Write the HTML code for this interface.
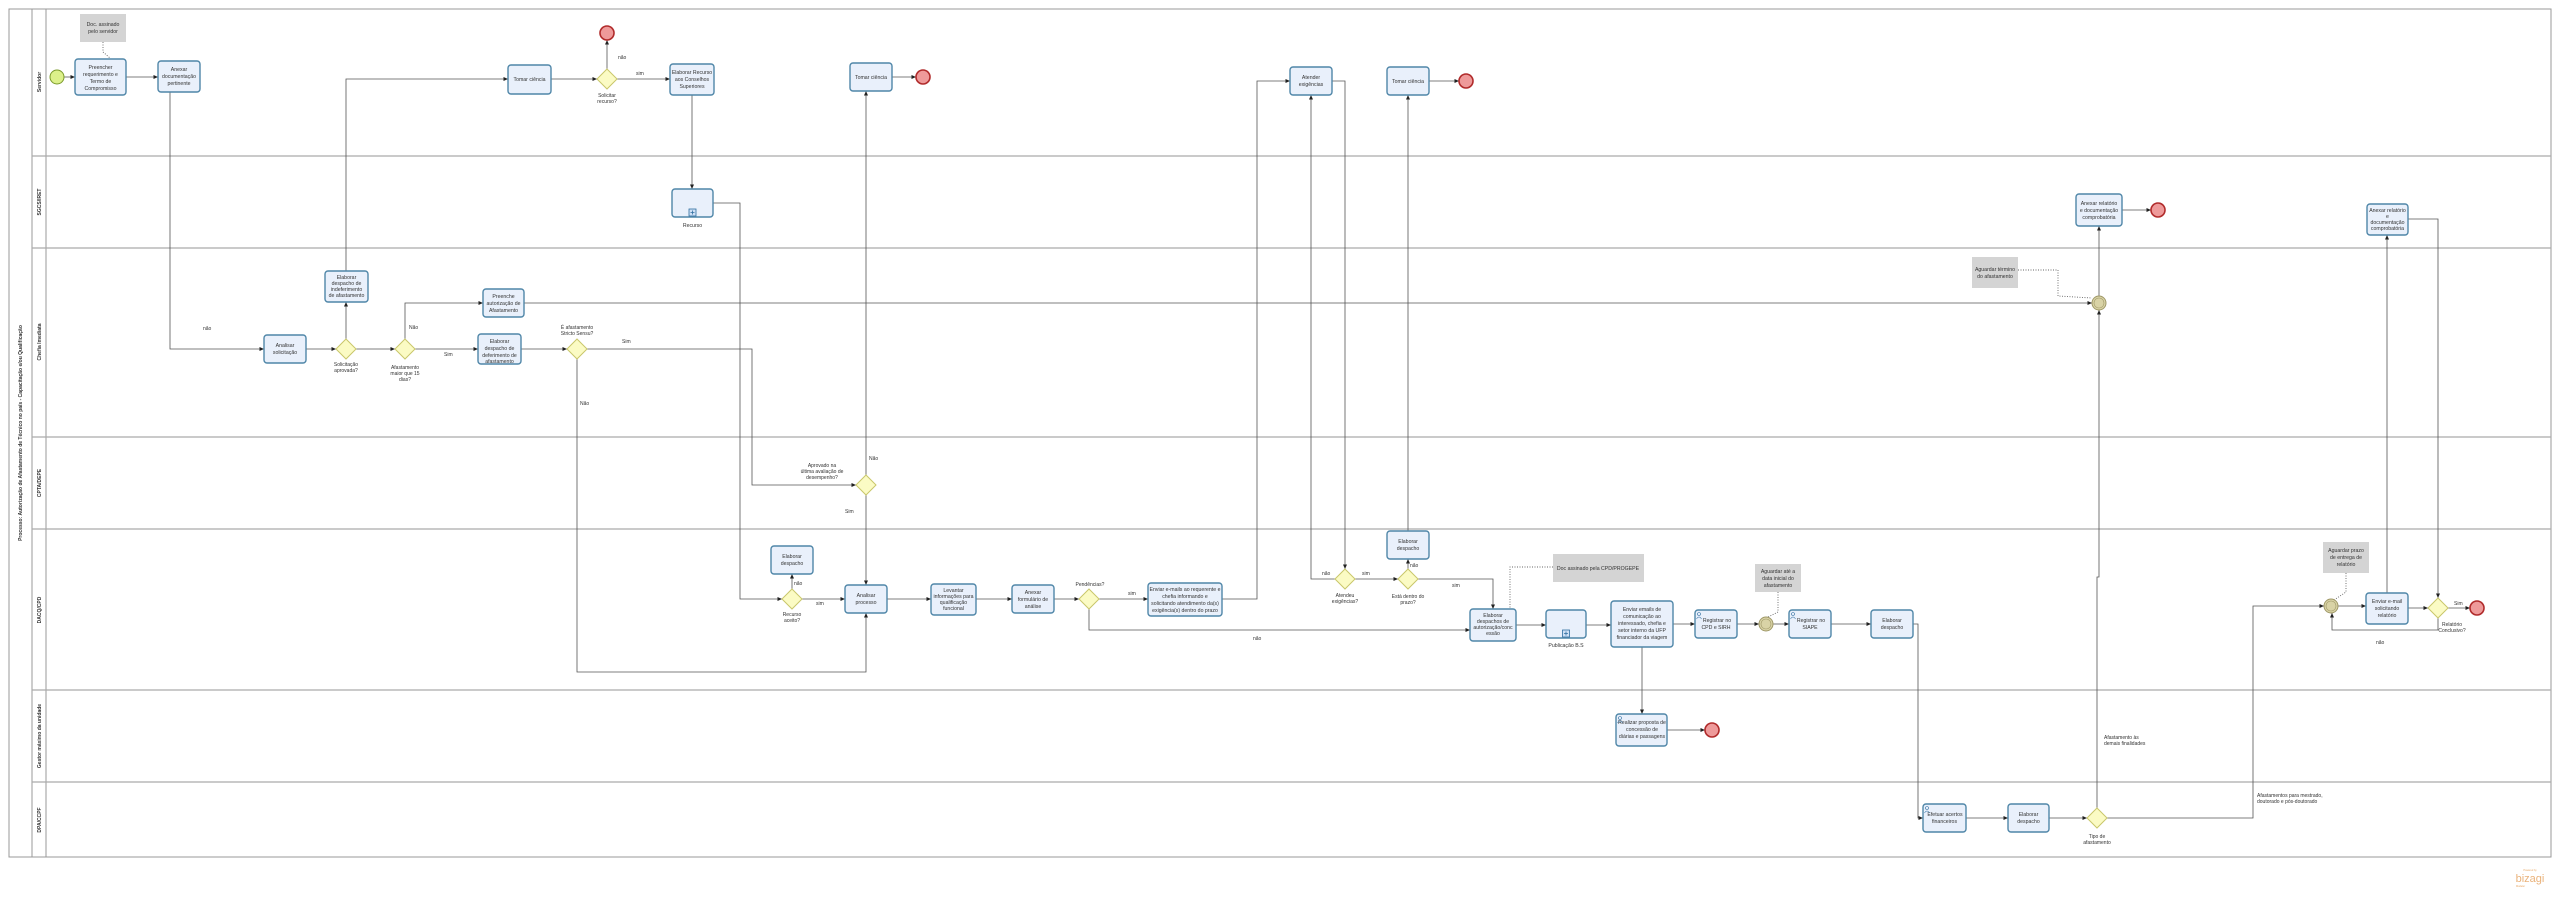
<!DOCTYPE html>
<html><head><meta charset="utf-8"><style>
html,body{margin:0;padding:0;background:#fff;}
svg{display:block;font-family:"Liberation Sans",sans-serif;}
.t rect.b{fill:#e9f0fb;stroke:#4f86a8;stroke-width:1.4;}
.tx{font-size:5.2px;fill:#333;text-anchor:middle;}
.lb{font-size:5px;fill:#333;}
.lbc{font-size:5px;fill:#333;text-anchor:middle;}
.c{fill:none;stroke:#555;stroke-width:0.8;}
.d{fill:none;stroke:#666;stroke-width:0.9;stroke-dasharray:1,1.5;}
.g{fill:#fbfbc4;stroke:#c9c76a;stroke-width:1;}
.e{fill:#ee9a9a;stroke:#b02a2a;stroke-width:1.6;}
.i{fill:#d9d3a6;stroke:#9f9867;stroke-width:1;}
.an{fill:#d4d4d4;}
.ln{stroke:#aaa;stroke-width:1.2;fill:none;}
.lane{font-size:5px;font-weight:bold;fill:#333;text-anchor:middle;}
</style></head><body>
<svg width="2560" height="901" viewBox="0 0 2560 901" xmlns="http://www.w3.org/2000/svg">
<defs><marker id="a" markerWidth="5" markerHeight="5" refX="4.5" refY="2.5" orient="auto" markerUnits="userSpaceOnUse"><path d="M0,0.5 L4.5,2.5 L0,4.5z" fill="#222"/></marker></defs>
<!-- pool -->
<rect x="9" y="9" width="2542" height="848" fill="#fff" stroke="#999" stroke-width="1"/>
<line x1="32" y1="9" x2="32" y2="857" stroke="#999"/>
<line x1="46" y1="9" x2="46" y2="857" stroke="#999"/>
<g class="ln">
<line x1="32" y1="156" x2="2551" y2="156"/><line x1="32" y1="248" x2="2551" y2="248"/>
<line x1="32" y1="437" x2="2551" y2="437"/><line x1="32" y1="529" x2="2551" y2="529"/>
<line x1="32" y1="690" x2="2551" y2="690"/><line x1="32" y1="782" x2="2551" y2="782"/>
</g>
<text class="lane" transform="translate(22,433) rotate(-90)">Processo: Autorização de Afastamento de Técnico no país - Capacitação e/ou Qualificação</text>
<text class="lane" transform="translate(41,82) rotate(-90)">Servidor</text>
<text class="lane" transform="translate(41,202) rotate(-90)">SGCS/IRET</text>
<text class="lane" transform="translate(41,342) rotate(-90)">Chefia Imediata</text>
<text class="lane" transform="translate(41,483) rotate(-90)">CPTA/DEPE</text>
<text class="lane" transform="translate(41,610) rotate(-90)">DACQ/CPD</text>
<text class="lane" transform="translate(41,736) rotate(-90)">Gestor máximo da unidade</text>
<text class="lane" transform="translate(41,820) rotate(-90)">DPA/CCPF</text>

<!-- annotations -->
<rect class="an" x="80" y="14" width="46" height="28"/><text class="tx" x="103" y="26">Doc. assinado</text><text class="tx" x="103" y="33">pelo servidor</text>
<rect class="an" x="1553" y="554" width="91" height="28"/><text class="tx" x="1598" y="570">Doc assinado pela CPD/PROGEPE</text>
<rect class="an" x="1755" y="564" width="46" height="28"/><text class="tx" x="1778" y="573">Aguardar até a</text><text class="tx" x="1778" y="580">data inicial do</text><text class="tx" x="1778" y="587">afastamento</text>
<rect class="an" x="1972" y="257" width="46" height="31"/><text class="tx" x="1995" y="271">Aguardar término</text><text class="tx" x="1995" y="278">do afastamento</text>
<rect class="an" x="2323" y="542" width="46" height="31"/><text class="tx" x="2346" y="552">Aguardar prazo</text><text class="tx" x="2346" y="559">de entrega de</text><text class="tx" x="2346" y="566">relatório</text>

<!-- dotted associations -->
<polyline class="d" points="103,42 103,52 110,58"/>
<polyline class="d" points="1553,567 1510,567 1510,609"/>
<polyline class="d" points="1778,592 1778,612 1768,617"/>
<polyline class="d" points="2018,270 2058,270 2058,296 2092,298"/>
<polyline class="d" points="2346,573 2346,592 2334,600"/>

<!-- connectors -->
<g class="c" marker-end="url(#a)">
<polyline points="64,77 75,77"/>
<polyline points="126,77 158,77"/>
<polyline points="170,92 170,349 264,349"/>
<polyline points="306,349 336,349"/>
<polyline points="346,339 346,302"/>
<polyline points="346,271 346,79 508,79"/>
<polyline points="356,349 395,349"/>
<polyline points="405,339 405,303 483,303"/>
<polyline points="524,303 2092,303"/>
<polyline points="415,349 478,349"/>
<polyline points="521,349 567,349"/>
<polyline points="587,349 752,349 752,485 856,485"/>
<polyline points="577,359 577,672 866,672 866,613"/>
<polyline points="551,79 597,79"/>
<polyline points="607,69 607,40"/>
<polyline points="617,79 670,79"/>
<polyline points="692,95 692,189"/>
<polyline points="713,203 740,203 740,599 782,599"/>
<polyline points="792,589 792,574"/>
<polyline points="802,599 845,599"/>
<polyline points="866,475 866,91"/>
<polyline points="866,495 866,585"/>
<polyline points="892,77 916,77"/>
<polyline points="887,599 931,599"/>
<polyline points="976,599 1012,599"/>
<polyline points="1054,599 1079,599"/>
<polyline points="1099,599 1148,599"/>
<polyline points="1222,599 1257,599 1257,81 1290,81"/>
<polyline points="1089,609 1089,630 1470,630"/>
<polyline points="1332,81 1345,81 1345,569"/>
<polyline points="1335,579 1311,579 1311,95"/>
<polyline points="1355,579 1398,579"/>
<polyline points="1408,569 1408,559"/>
<polyline points="1408,531 1408,95"/>
<polyline points="1418,579 1493,579 1493,609"/>
<polyline points="1516,625 1546,625"/>
<polyline points="1586,625 1611,625"/>
<polyline points="1642,647 1642,714"/>
<polyline points="1667,730 1705,730"/>
<polyline points="1673,624 1695,624"/>
<polyline points="1737,624 1759,624"/>
<polyline points="1773,624 1789,624"/>
<polyline points="1831,624 1871,624"/>
<polyline points="1913,624 1918,624 1918,818 1923,818"/>
<polyline points="1966,818 2008,818"/>
<polyline points="2049,818 2087,818"/>
<polyline points="2097,808 2097,577 2099,577 2099,310"/>
<polyline points="2099,296 2099,226"/>
<polyline points="2122,210 2151,210"/>
<polyline points="2107,818 2253,818 2253,606 2324,606"/>
<polyline points="2338,606 2366,606"/>
<polyline points="2408,608 2428,608"/>
<polyline points="2448,608 2470,608"/>
<polyline points="2438,618 2438,630 2332,630 2332,613"/>
<polyline points="2387,593 2387,235"/>
<polyline points="2408,219 2438,219 2438,598"/>
<polyline points="1429,81 1459,81"/>
</g>

<!-- tasks -->
<g class="t">
<rect class="b" x="75" y="59" width="51" height="36" rx="3"/><text class="tx" x="100.5" y="69">Preencher</text><text class="tx" x="100.5" y="76">requerimento e</text><text class="tx" x="100.5" y="83">Termo de</text><text class="tx" x="100.5" y="90">Compromisso</text>
<rect class="b" x="158" y="61" width="42" height="31" rx="3"/><text class="tx" x="179" y="71">Anexar</text><text class="tx" x="179" y="78">documentação</text><text class="tx" x="179" y="85">pertinente</text>
<rect class="b" x="508" y="65" width="43" height="29" rx="3"/><text class="tx" x="529.5" y="81">Tomar ciência</text>
<rect class="b" x="670" y="64" width="44" height="31" rx="3"/><text class="tx" x="692" y="74">Elaborar Recurso</text><text class="tx" x="692" y="81">aos Conselhos</text><text class="tx" x="692" y="88">Superiores</text>
<rect class="b" x="672" y="189" width="41" height="28" rx="3"/><rect x="689" y="209" width="7" height="7" fill="#cfe0f5" stroke="#2f6ea0" stroke-width="0.8"/><path d="M692.5,210.5v4M690.5,212.5h4" stroke="#2f6ea0" stroke-width="0.8"/><text class="tx" x="692.5" y="227">Recurso</text>
<rect class="b" x="850" y="63" width="42" height="28" rx="3"/><text class="tx" x="871" y="79">Tomar ciência</text>
<rect class="b" x="1290" y="67" width="42" height="28" rx="3"/><text class="tx" x="1311" y="79">Atender</text><text class="tx" x="1311" y="86">exigências</text>
<rect class="b" x="1387" y="67" width="42" height="28" rx="3"/><text class="tx" x="1408" y="83">Tomar ciência</text>
<rect class="b" x="2076" y="194" width="46" height="32" rx="3"/><text class="tx" x="2099" y="205">Anexar relatório</text><text class="tx" x="2099" y="212">e documentação</text><text class="tx" x="2099" y="219">comprobatória</text>
<rect class="b" x="2367" y="204" width="41" height="31" rx="3"/><text class="tx" x="2387.5" y="212">Anexar relatório</text><text class="tx" x="2387.5" y="218">e</text><text class="tx" x="2387.5" y="224">documentação</text><text class="tx" x="2387.5" y="230">comprobatória</text>
<rect class="b" x="264" y="335" width="42" height="28" rx="3"/><text class="tx" x="285" y="347">Analisar</text><text class="tx" x="285" y="354">solicitação</text>
<rect class="b" x="325" y="271" width="43" height="31" rx="3"/><text class="tx" x="346.5" y="279">Elaborar</text><text class="tx" x="346.5" y="285">despacho de</text><text class="tx" x="346.5" y="291">indeferimento</text><text class="tx" x="346.5" y="297">de afastamento</text>
<rect class="b" x="483" y="289" width="41" height="28" rx="3"/><text class="tx" x="503.5" y="298">Preenche</text><text class="tx" x="503.5" y="305">autorização de</text><text class="tx" x="503.5" y="312">Afastamento</text>
<rect class="b" x="478" y="334" width="43" height="30" rx="3"/><text class="tx" x="499.5" y="343">Elaborar</text><text class="tx" x="499.5" y="350">despacho de</text><text class="tx" x="499.5" y="357">deferimento de</text><text class="tx" x="499.5" y="363">afastamento</text>
<rect class="b" x="771" y="546" width="42" height="28" rx="3"/><text class="tx" x="792" y="558">Elaborar</text><text class="tx" x="792" y="565">despacho</text>
<rect class="b" x="845" y="585" width="42" height="28" rx="3"/><text class="tx" x="866" y="597">Analisar</text><text class="tx" x="866" y="604">processo</text>
<rect class="b" x="931" y="584" width="45" height="31" rx="3"/><text class="tx" x="953.5" y="592">Levantar</text><text class="tx" x="953.5" y="598">informações para</text><text class="tx" x="953.5" y="604">qualificação</text><text class="tx" x="953.5" y="610">funcional</text>
<rect class="b" x="1012" y="585" width="42" height="28" rx="3"/><text class="tx" x="1033" y="594">Anexar</text><text class="tx" x="1033" y="601">formulário de</text><text class="tx" x="1033" y="608">análise</text>
<rect class="b" x="1148" y="583" width="74" height="33" rx="3"/><text class="tx" x="1185" y="591">Enviar e-mails ao requerente e</text><text class="tx" x="1185" y="598">chefia informando e</text><text class="tx" x="1185" y="605">solicitando atendimento da(s)</text><text class="tx" x="1185" y="612">exigência(s) dentro do prazo</text>
<rect class="b" x="1387" y="531" width="42" height="28" rx="3"/><text class="tx" x="1408" y="543">Elaborar</text><text class="tx" x="1408" y="550">despacho</text>
<rect class="b" x="1470" y="609" width="46" height="32" rx="3"/><text class="tx" x="1493" y="617">Elaborar</text><text class="tx" x="1493" y="623">despachos de</text><text class="tx" x="1493" y="629">autorização/conc</text><text class="tx" x="1493" y="635">essão</text>
<rect class="b" x="1546" y="610" width="40" height="28" rx="3"/><rect x="1562.5" y="630" width="7" height="7" fill="#cfe0f5" stroke="#2f6ea0" stroke-width="0.8"/><path d="M1566,631.5v4M1564,633.5h4" stroke="#2f6ea0" stroke-width="0.8"/><text class="tx" x="1566" y="647">Publicação B.S</text>
<rect class="b" x="1611" y="601" width="62" height="46" rx="3"/><text class="tx" x="1642" y="611">Enviar emails de</text><text class="tx" x="1642" y="618">comunicação ao</text><text class="tx" x="1642" y="625">interessado, chefia e</text><text class="tx" x="1642" y="632">setor interno da UFP</text><text class="tx" x="1642" y="639">financiador da viagem</text>
<rect class="b" x="1616" y="714" width="51" height="32" rx="3"/><text class="tx" x="1642" y="724">Realizar proposta de</text><text class="tx" x="1642" y="731">concessão de</text><text class="tx" x="1642" y="738">diárias e passagens</text>
<rect class="b" x="1695" y="610" width="42" height="28" rx="3"/><text class="tx" x="1717" y="622">Registrar no</text><text class="tx" x="1716" y="629">CPD e SIRH</text>
<rect class="b" x="1789" y="610" width="42" height="28" rx="3"/><text class="tx" x="1811" y="622">Registrar no</text><text class="tx" x="1810" y="629">SIAPE</text>
<rect class="b" x="1871" y="610" width="42" height="28" rx="3"/><text class="tx" x="1892" y="622">Elaborar</text><text class="tx" x="1892" y="629">despacho</text>
<rect class="b" x="1923" y="804" width="43" height="28" rx="3"/><text class="tx" x="1945" y="816">Efetuar acertos</text><text class="tx" x="1944.5" y="823">financeiros</text>
<rect class="b" x="2008" y="804" width="41" height="28" rx="3"/><text class="tx" x="2028.5" y="816">Elaborar</text><text class="tx" x="2028.5" y="823">despacho</text>
<rect class="b" x="2366" y="593" width="42" height="31" rx="3"/><text class="tx" x="2387" y="603">Enviar e-mail</text><text class="tx" x="2387" y="610">solicitando</text><text class="tx" x="2387" y="617">relatório</text>
</g>
<!-- user icons -->
<g fill="none" stroke="#2f6ea0" stroke-width="0.6">
<circle cx="1699" cy="614" r="1.5"/><path d="M1696.5,619 q2.5,-4 5,0"/>
<circle cx="1793" cy="614" r="1.5"/><path d="M1790.5,619 q2.5,-4 5,0"/>
<circle cx="1927" cy="808" r="1.5"/><path d="M1924.5,813 q2.5,-4 5,0"/>
<circle cx="1620" cy="718" r="1.5"/><path d="M1617.5,723 q2.5,-4 5,0"/>
</g>

<!-- gateways -->
<g class="g">
<path d="M607,69 L617,79 L607,89 L597,79z"/>
<path d="M346,339 L356,349 L346,359 L336,349z"/>
<path d="M405,339 L415,349 L405,359 L395,349z"/>
<path d="M577,339 L587,349 L577,359 L567,349z"/>
<path d="M866,475 L876,485 L866,495 L856,485z"/>
<path d="M792,589 L802,599 L792,609 L782,599z"/>
<path d="M1089,589 L1099,599 L1089,609 L1079,599z"/>
<path d="M1345,569 L1355,579 L1345,589 L1335,579z"/>
<path d="M1408,569 L1418,579 L1408,589 L1398,579z"/>
<path d="M2097,808 L2107,818 L2097,828 L2087,818z"/>
<path d="M2438,598 L2448,608 L2438,618 L2428,608z"/>
</g>
<!-- events -->
<circle cx="57" cy="77" r="7" fill="#dcf08a" stroke="#7a9a2a" stroke-width="1"/>
<g class="e">
<circle cx="607" cy="33" r="7"/><circle cx="923" cy="77" r="7"/><circle cx="1466" cy="81" r="7"/>
<circle cx="2158" cy="210" r="7"/><circle cx="1712" cy="730" r="7"/><circle cx="2477" cy="608" r="7"/>
</g>
<g class="i">
<circle cx="2099" cy="303" r="7"/><circle cx="1766" cy="624" r="7"/><circle cx="2331" cy="606" r="7"/>
</g>
<g fill="none" stroke="#9f9867" stroke-width="0.6">
<circle cx="2099" cy="303" r="5"/><circle cx="1766" cy="624" r="5"/><circle cx="2331" cy="606" r="5"/>
</g>

<!-- labels -->
<text class="lb" x="618" y="59">não</text>
<text class="lb" x="636" y="75">sim</text>
<text class="lbc" x="607" y="97">Solicitar</text><text class="lbc" x="607" y="103">recurso?</text>
<text class="lb" x="203" y="330">não</text>
<text class="lbc" x="346" y="366">Solicitação</text><text class="lbc" x="346" y="372">aprovada?</text>
<text class="lbc" x="405" y="369">Afastamento</text><text class="lbc" x="405" y="375">maior que 15</text><text class="lbc" x="405" y="381">dias?</text>
<text class="lb" x="409" y="329">Não</text>
<text class="lb" x="444" y="356">Sim</text>
<text class="lbc" x="577" y="329">É afastamento</text><text class="lbc" x="577" y="335">Stricto Sensu?</text>
<text class="lb" x="622" y="343">Sim</text>
<text class="lb" x="580" y="405">Não</text>
<text class="lbc" x="822" y="467">Aprovado na</text><text class="lbc" x="822" y="473">última avaliação de</text><text class="lbc" x="822" y="479">desempenho?</text>
<text class="lb" x="869" y="460">Não</text>
<text class="lb" x="845" y="513">Sim</text>
<text class="lb" x="794" y="585">não</text>
<text class="lb" x="816" y="605">sim</text>
<text class="lbc" x="792" y="616">Recurso</text><text class="lbc" x="792" y="622">aceito?</text>
<text class="lbc" x="1090" y="586">Pendências?</text>
<text class="lb" x="1128" y="595">sim</text>
<text class="lb" x="1253" y="640">não</text>
<text class="lb" x="1322" y="575">não</text>
<text class="lb" x="1362" y="575">sim</text>
<text class="lbc" x="1345" y="597">Atendeu</text><text class="lbc" x="1345" y="603">exigências?</text>
<text class="lb" x="1410" y="567">não</text>
<text class="lb" x="1452" y="587">sim</text>
<text class="lbc" x="1408" y="598">Está dentro do</text><text class="lbc" x="1408" y="604">prazo?</text>
<text class="lbc" x="2097" y="838">Tipo de</text><text class="lbc" x="2097" y="844">afastamento</text>
<text class="lb" x="2104" y="739">Afastamento às</text><text class="lb" x="2104" y="745">demais finalidades</text>
<text class="lb" x="2257" y="797">Afastamentos para mestrado,</text><text class="lb" x="2257" y="803">doutorado e pós-doutorado</text>
<text class="lb" x="2454" y="605">Sim</text>
<text class="lbc" x="2452" y="626">Relatório</text><text class="lbc" x="2452" y="632">Conclusivo?</text>
<text class="lb" x="2376" y="644">não</text>

<!-- bizagi -->
<text x="2530" y="871" font-size="2.5" fill="#e7a561" text-anchor="middle">Powered by</text>
<text x="2530" y="882" font-size="11" fill="#eab27a" text-anchor="middle">bizagi</text>
<text x="2516" y="887" font-size="2.5" fill="#e7a561">Modeler</text>
</svg>
</body></html>
